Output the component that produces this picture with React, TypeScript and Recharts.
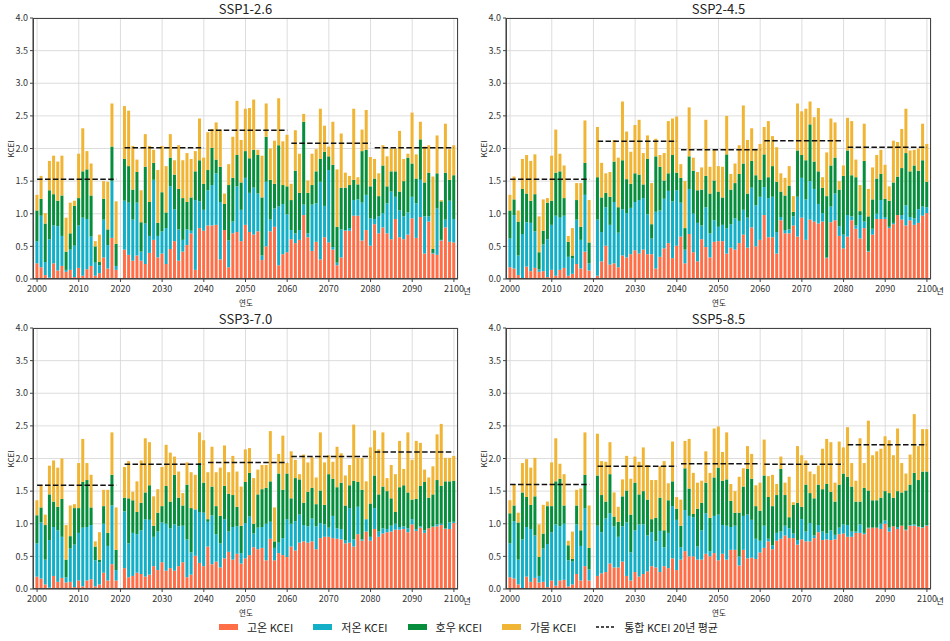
import { Bar, CartesianGrid, ComposedChart, Line, XAxis, YAxis } from "recharts";

// categories: 2000-2100, 2020 has no data
const years = Array.from({ length: 101 }, (_, i) => 2000 + i);
const periods: [number, number][] = [
  [2000, 2019],
  [2021, 2040],
  [2041, 2060],
  [2061, 2080],
  [2081, 2100]
];
const yTicks = [0, 0.5, 1, 1.5, 2, 2.5, 3, 3.5, 4];

// stack boundaries: top of hot, top of cold, top of rain, total
const ssp126Hot = [
  0.24, 0.18, 0.06, 0.02, 0.24, 0.13, 0.2, 0.11, 0.14, 0.03, 0.17, 0.05, 0.15, 0.2, 0.05, 0.09, 0.33, 0.16, 0.63, 0.14,
  null,
  0.45, 0.37, 0.28, 0.36, 0.28, 0.23, 0.4, 0.6, 0.33, 0.39, 0.23, 0.46, 0.58, 0.28, 0.42, 0.52, 0.7, 0.14, 0.78, 0.74,
  0.82, 0.82, 0.83, 0.3, 0.75, 0.18, 0.7, 0.72, 0.58, 0.83, 0.72, 0.68, 0.73, 0.29, 0.5, 0.73, 0.8, 0.21, 0.38, 0.41,
  0.61, 0.55, 0.6, 0.98, 0.64, 0.43, 0.57, 0.3, 0.64, 0.56, 0.45, 0.21, 0.33, 0.74, 0.74, 0.97, 0.97, 0.59, 0.75, 0.51,
  0.84, 0.7, 0.79, 0.7, 0.61, 0.92, 0.64, 0.61, 0.68, 0.93, 0.63, 0.95, 0.39, 0.88, 0.39, 0.37, 0.59, 0.79, 0.57, 0.56
];
const ssp126ColdTop = [
  0.58, 0.97, 0.26, 0.61, 0.82, 0.81, 0.66, 0.14, 0.45, 0.51, 0.82, 0.94, 0.92, 0.65, 0.25, 0.21, 0.91, 0.52, 1.5, 0.2,
  null,
  1.2, 1.17, 0.91, 1.17, 0.42, 0.85, 0.66, 1.52, 0.66, 0.73, 0.78, 1.42, 1.07, 0.76, 0.6, 0.76, 0.74, 1.21, 1.19, 1.06,
  1.36, 1.44, 1.62, 1.18, 0.75, 0.59, 0.88, 1.42, 1.06, 1.55, 1.32, 1.4, 1.31, 0.36, 1.49, 0.91, 1.08, 1.11, 1.15, 0.99,
  0.75, 0.7, 0.75, 1.14, 0.7, 1.14, 1.16, 1.49, 1.12, 1.67, 0.49, 0.25, 0.76, 0.75, 0.78, 1.21, 1.22, 1.17, 1.29, 0.93,
  0.92, 0.96, 1.01, 1.16, 1.34, 1.26, 1.05, 0.96, 1.02, 1.26, 1.16, 1.52, 0.96, 0.96, 0.4, 1.08, 0.6, 0.91, 1.2, 0.92
];
const ssp126RainTop = [
  1.05, 1.23, 0.85, 1.36, 1.3, 1.2, 1.28, 0.42, 0.7, 1.12, 1.24, 1.65, 1.68, 1.28, 0.5, 0.26, 1.23, 0.76, 2.03, 0.54,
  null,
  1.84, 1.73, 1.37, 1.64, 0.87, 1.72, 1.18, 1.78, 0.86, 1.33, 1.02, 1.86, 1.6, 1.38, 1.24, 1.18, 1.25, 1.65, 1.82, 1.46,
  1.67, 2.01, 1.83, 1.72, 1.15, 1.44, 1.55, 1.9, 1.48, 1.96, 1.85, 1.98, 1.9, 1.25, 2.18, 1.52, 1.46, 2.05, 1.44, 1.42,
  1.21, 1.66, 1.32, 2.41, 1.32, 1.44, 1.65, 1.84, 1.95, 1.88, 1.75, 0.8, 1.4, 1.4, 1.44, 1.52, 1.45, 1.96, 1.98, 1.42,
  1.54, 1.27, 1.74, 1.42, 1.65, 1.65, 1.34, 1.5, 1.86, 1.77, 1.54, 2.14, 1.48, 1.63, 0.46, 1.62, 1.19, 1.63, 1.52, 1.59
];
const ssp126Total = [
  1.29, 1.58, 1.01, 1.81, 1.89, 1.8, 1.89, 0.94, 1.17, 1.2, 1.92, 2.31, 1.96, 1.77, 0.58, 0.68, 1.5, 1.49, 2.69, 1.19,
  null,
  2.65, 2.58, 2.04, 1.83, 1.36, 2.22, 2.04, 1.98, 1.67, 2.04, 1.73, 2.22, 1.82, 2.05, 1.82, 1.93, 1.84, 1.96, 2.46, 1.86,
  2.25, 2.3, 2.4, 2.29, 1.31, 1.76, 2.18, 2.73, 2.13, 2.61, 2.62, 2.75, 1.98, 1.89, 2.69, 2.0, 2.12, 2.77, 2.11, 2.21,
  1.46, 2.28, 1.92, 2.53, 1.51, 1.92, 1.99, 2.61, 2.35, 2.03, 2.41, 1.68, 2.23, 1.63, 1.58, 2.61, 1.56, 2.29, 2.59, 1.87,
  1.84, 1.62, 2.05, 1.88, 2.0, 2.0, 2.27, 1.84, 1.92, 2.55, 1.91, 2.41, 2.03, 2.05, 1.57, 2.2, 1.21, 2.38, 1.99, 2.05
];
const ssp126Avg = [1.53, 2.01, 2.28, 2.08, 2.01];

const ssp245Hot = [
  0.18, 0.16, 0.06, 0.01, 0.19, 0.12, 0.17, 0.11, 0.12, 0.03, 0.14, 0.05, 0.14, 0.17, 0.05, 0.08, 0.23, 0.16, 0.42, 0.13,
  null,
  0.05, 0.27, 0.51, 0.22, 0.24, 0.18, 0.36, 0.33, 0.38, 0.44, 0.39, 0.45, 0.38, 0.38, 0.16, 0.34, 0.47, 0.55, 0.32, 0.51,
  0.65, 0.24, 0.69, 0.41, 0.27, 0.61, 0.49, 0.33, 0.57, 0.58, 0.58, 0.39, 0.48, 0.45, 0.55, 0.68, 0.48, 0.79, 0.5, 0.6,
  0.98, 0.64, 0.64, 0.39, 0.9, 0.7, 0.7, 0.82, 0.65, 0.94, 0.6, 0.91, 0.88, 0.85, 0.88, 0.32, 0.87, 0.9, 0.66, 0.47,
  0.65, 0.9, 0.77, 0.62, 0.78, 0.42, 0.68, 0.92, 0.92, 0.92, 0.78, 0.84, 0.98, 0.91, 0.82, 0.9, 0.83, 0.86, 0.97, 1.01
];
const ssp245ColdTop = [
  0.62, 0.98, 0.36, 0.69, 0.87, 0.86, 0.73, 0.15, 0.53, 0.61, 0.83, 0.97, 0.94, 0.97, 0.34, 0.32, 0.91, 0.6, 1.29, 0.24,
  null,
  0.91, 0.72, 1.1, 0.83, 1.18, 0.71, 1.07, 1.01, 1.09, 1.18, 1.21, 1.24, 0.99, 0.62, 1.03, 1.05, 1.23, 1.35, 1.19, 1.36,
  1.17, 0.45, 1.38, 1.0, 0.86, 0.82, 1.1, 0.7, 0.9, 0.8, 0.83, 0.78, 0.84, 0.93, 0.89, 1.06, 0.94, 1.4, 1.13, 1.26,
  1.41, 1.24, 1.26, 0.72, 0.95, 0.75, 0.76, 0.96, 1.26, 1.55, 1.22, 1.5, 1.38, 1.15, 1.01, 0.33, 1.11, 1.31, 0.81, 0.68,
  0.98, 0.96, 0.82, 0.98, 0.88, 0.43, 0.77, 1.0, 1.21, 0.95, 0.8, 0.86, 0.98, 0.98, 1.13, 0.95, 0.93, 1.07, 1.11, 1.1
];
const ssp245RainTop = [
  1.05, 1.22, 0.88, 1.38, 1.31, 1.2, 1.3, 0.41, 0.74, 1.17, 1.2, 1.63, 1.65, 1.24, 0.57, 0.36, 1.21, 0.8, 1.78, 0.56,
  null,
  1.56, 1.25, 1.32, 1.26, 1.8, 1.1, 1.82, 1.53, 1.46, 1.62, 1.6, 1.45, 1.84, 0.84, 1.88, 1.72, 1.51, 1.62, 1.9, 1.63,
  1.55, 0.78, 1.88, 1.66, 1.36, 1.37, 1.58, 1.31, 1.51, 1.34, 1.25, 1.91, 1.37, 1.47, 1.61, 1.77, 1.31, 1.81, 1.59, 1.52,
  1.91, 1.56, 1.73, 1.49, 1.34, 1.28, 1.43, 1.03, 1.97, 1.9, 1.82, 2.37, 1.8, 1.65, 1.4, 1.27, 1.74, 1.86, 1.37, 1.58,
  1.97, 1.59, 1.56, 1.04, 1.81, 0.96, 1.22, 1.54, 1.61, 1.23, 1.2, 1.48, 1.57, 1.7, 1.93, 1.65, 1.74, 1.66, 1.82, 1.49
];
const ssp245Total = [
  1.29, 1.57, 1.05, 1.84, 1.9, 1.81, 1.91, 0.96, 1.22, 1.24, 1.89, 2.29, 1.92, 1.74, 0.66, 0.78, 1.47, 1.47, 2.43, 1.21,
  null,
  2.33, 1.78, 1.62, 1.64, 2.13, 1.86, 2.72, 2.26, 1.95, 2.36, 2.44, 1.93, 2.2, 1.47, 2.15, 1.9, 1.93, 2.42, 2.46, 2.49,
  1.76, 1.5, 2.63, 1.86, 1.64, 1.71, 2.44, 1.72, 1.98, 1.73, 1.72, 2.5, 1.61, 1.77, 2.05, 2.66, 2.13, 2.31, 1.98, 2.07,
  2.33, 2.42, 2.19, 2.02, 1.62, 1.55, 1.73, 1.27, 2.69, 2.57, 2.61, 2.72, 2.48, 2.62, 1.56, 1.94, 2.46, 2.4, 1.5, 1.74,
  2.47, 2.42, 1.83, 1.44, 2.38, 1.38, 1.71, 1.9, 1.98, 1.75, 1.42, 2.12, 2.1, 2.3, 2.61, 1.97, 1.98, 2.0, 2.38, 2.07
];
const ssp245Avg = [1.53, 2.11, 1.98, 2.12, 2.02];

const ssp370Hot = [
  0.19, 0.16, 0.07, 0.02, 0.2, 0.11, 0.17, 0.1, 0.11, 0.03, 0.13, 0.04, 0.13, 0.15, 0.04, 0.07, 0.25, 0.13, 0.38, 0.13,
  null,
  0.32, 0.18, 0.2, 0.25, 0.23, 0.19, 0.22, 0.35, 0.29, 0.41, 0.28, 0.32, 0.28, 0.35, 0.41, 0.18, 0.22, 0.51, 0.4, 0.35,
  0.65, 0.38, 0.42, 0.33, 0.47, 0.57, 0.45, 0.54, 0.39, 0.47, 0.52, 0.64, 0.61, 0.63, 0.44, 0.77, 0.44, 0.55, 0.52, 0.49,
  0.65, 0.59, 0.71, 0.73, 0.71, 0.73, 0.61, 0.78, 0.8, 0.8, 0.78, 0.77, 0.76, 0.7, 0.71, 0.65, 0.84, 0.74, 0.88, 0.74,
  0.92, 0.8, 0.85, 0.87, 0.88, 0.91, 0.91, 0.92, 0.87, 0.99, 0.89, 0.94, 0.86, 0.93, 0.95, 0.96, 0.98, 0.92, 0.92, 1.01
];
const ssp370ColdTop = [
  0.7, 1.02, 0.45, 0.75, 0.95, 0.9, 0.8, 0.18, 0.62, 0.68, 0.86, 0.94, 0.95, 0.98, 0.44, 0.41, 1.0, 0.66, 1.28, 0.29,
  null,
  1.19, 0.7, 0.86, 0.84, 0.9, 1.07, 1.06, 0.8, 0.88, 1.02, 1.0, 0.93, 0.99, 0.96, 0.97, 0.76, 0.56, 1.22, 1.18, 1.17,
  1.03, 1.13, 0.84, 0.7, 1.07, 0.88, 0.95, 0.96, 0.55, 1.01, 1.11, 0.85, 0.94, 0.95, 1.0, 1.03, 0.63, 0.71, 0.78, 1.07,
  1.0, 1.04, 1.14, 0.98, 0.96, 1.08, 0.96, 1.01, 0.99, 0.94, 1.12, 0.93, 0.92, 0.75, 1.24, 0.76, 1.26, 0.76, 1.07, 0.8,
  1.24, 0.88, 0.93, 0.92, 0.97, 1.0, 0.95, 0.96, 0.93, 1.07, 0.92, 0.96, 0.9, 0.93, 0.96, 0.99, 1.0, 0.93, 1.02, 1.03
];
const ssp370RainTop = [
  1.13, 1.25, 0.98, 1.45, 1.34, 1.26, 1.38, 0.45, 0.81, 1.24, 1.24, 1.64, 1.67, 1.25, 0.65, 0.45, 1.27, 0.86, 1.75, 0.6,
  null,
  1.4, 1.39, 1.36, 1.18, 1.32, 1.48, 1.59, 0.97, 1.17, 1.27, 1.58, 1.34, 1.75, 1.4, 1.28, 1.6, 1.24, 1.22, 1.93, 1.63,
  1.07, 1.57, 1.27, 1.12, 1.58, 1.46, 1.44, 1.26, 0.97, 1.64, 1.78, 1.0, 1.45, 1.53, 1.55, 1.65, 0.73, 1.77, 1.52, 1.77,
  1.39, 1.7, 1.68, 1.32, 1.49, 1.55, 1.3, 1.51, 1.29, 1.76, 1.69, 1.56, 1.63, 1.28, 1.59, 1.66, 1.64, 1.52, 1.07, 1.31,
  1.74, 1.45, 1.57, 1.5, 1.39, 1.18, 1.56, 1.59, 1.48, 1.37, 1.38, 1.58, 1.64, 1.4, 1.45, 1.67, 1.58, 1.65, 1.65, 1.66
];
const ssp370Total = [
  1.36, 1.59, 1.14, 1.89, 1.97, 1.86, 2.0, 0.98, 1.28, 1.3, 1.93, 2.3, 1.93, 1.75, 0.73, 0.87, 1.52, 1.52, 2.4, 1.25,
  null,
  1.87, 1.96, 1.49, 1.65, 1.97, 2.31, 2.25, 1.42, 1.53, 1.87, 2.21, 2.09, 2.03, 1.8, 1.47, 1.94, 1.79, 1.75, 2.4, 2.28,
  1.79, 2.18, 1.79, 1.86, 2.2, 1.79, 2.04, 1.8, 1.57, 2.14, 2.16, 1.7, 1.83, 1.9, 1.9, 2.42, 1.25, 2.07, 2.35, 1.93,
  2.11, 1.98, 1.76, 2.06, 1.94, 2.02, 1.71, 2.4, 1.94, 2.05, 1.95, 2.18, 2.08, 1.74, 1.9, 2.52, 2.01, 2.01, 1.65, 2.17,
  2.43, 2.14, 2.4, 1.7, 1.9, 1.76, 2.27, 1.84, 2.4, 1.98, 2.27, 2.24, 1.83, 1.71, 1.88, 2.37, 2.53, 2.01, 2.01, 2.04
];
const ssp370Avg = [1.59, 1.91, 1.94, 2.03, 2.1];

const ssp585Hot = [
  0.18, 0.16, 0.07, 0.01, 0.19, 0.11, 0.17, 0.1, 0.11, 0.03, 0.13, 0.05, 0.13, 0.14, 0.04, 0.07, 0.23, 0.13, 0.35, 0.13,
  null,
  0.2, 0.24, 0.26, 0.39, 0.33, 0.33, 0.42, 0.2, 0.13, 0.26, 0.19, 0.23, 0.27, 0.35, 0.33, 0.26, 0.35, 0.32, 0.47, 0.29,
  0.45, 0.58, 0.5, 0.5, 0.45, 0.45, 0.54, 0.5, 0.55, 0.44, 0.54, 0.45, 0.6, 0.6, 0.36, 0.6, 0.47, 0.48, 0.46, 0.56,
  0.63, 0.73, 0.61, 0.74, 0.77, 0.82, 0.78, 0.78, 0.68, 0.76, 0.73, 0.73, 0.78, 0.87, 0.75, 0.76, 0.75, 0.76, 0.84, 0.85,
  0.8, 0.8, 0.86, 0.86, 0.84, 0.93, 0.94, 0.94, 0.92, 1.0, 0.88, 0.96, 0.92, 0.97, 0.9, 0.97, 0.97, 0.95, 0.94, 0.97
];
const ssp585ColdTop = [
  0.7, 1.04, 0.45, 0.76, 0.95, 0.92, 0.82, 0.2, 0.62, 0.69, 0.87, 0.99, 0.96, 1.0, 0.44, 0.42, 0.99, 0.66, 1.24, 0.3,
  null,
  0.97, 0.87, 1.08, 1.16, 0.96, 0.8, 0.96, 1.02, 0.56, 0.9, 0.99, 0.99, 0.82, 0.87, 0.73, 0.89, 0.64, 0.86, 1.27, 1.06,
  0.64, 1.21, 1.12, 1.1, 0.65, 0.9, 1.16, 0.58, 1.12, 1.14, 0.98, 0.97, 0.95, 0.97, 0.5, 1.12, 1.14, 1.06, 0.77, 0.74,
  0.97, 0.77, 0.67, 0.86, 0.88, 0.97, 0.93, 0.85, 0.75, 1.07, 0.88, 1.01, 0.82, 0.98, 0.88, 0.85, 0.9, 0.83, 0.94, 0.99,
  0.98, 0.88, 0.88, 0.99, 0.86, 0.94, 0.94, 0.94, 1.0, 1.05, 0.94, 0.96, 0.95, 0.97, 0.91, 0.98, 0.99, 0.96, 0.95, 0.98
];
const ssp585RainTop = [
  1.16, 1.28, 1.02, 1.48, 1.41, 1.29, 1.42, 0.49, 0.85, 1.27, 1.27, 1.65, 1.69, 1.28, 0.67, 0.46, 1.28, 0.9, 1.75, 0.63,
  null,
  1.74, 1.44, 1.34, 1.76, 1.11, 1.03, 1.42, 1.51, 1.14, 1.63, 1.45, 1.5, 1.37, 1.07, 1.09, 1.4, 0.9, 1.36, 1.65, 1.23,
  0.97, 1.85, 1.54, 1.15, 1.23, 1.32, 1.63, 1.09, 1.71, 1.86, 1.66, 1.68, 1.35, 1.17, 1.17, 1.57, 1.84, 1.69, 1.27, 1.2,
  1.74, 1.41, 1.27, 1.44, 1.84, 1.44, 1.1, 1.29, 1.32, 1.26, 1.6, 1.47, 1.39, 1.6, 1.53, 1.61, 1.49, 1.34, 1.6, 1.77,
  1.72, 1.57, 1.34, 1.34, 1.55, 1.51, 1.36, 1.36, 1.4, 1.5, 1.47, 1.4, 1.5, 1.48, 1.51, 1.6, 1.78, 1.67, 1.8, 1.8
];
const ssp585Total = [
  1.36, 1.61, 1.17, 1.93, 1.99, 1.86, 2.01, 0.99, 1.29, 1.34, 1.94, 2.31, 1.92, 1.76, 0.74, 0.88, 1.52, 1.54, 2.4, 1.28,
  null,
  2.38, 1.96, 1.95, 2.25, 1.48, 1.26, 1.68, 2.04, 1.69, 2.03, 1.95, 2.17, 1.9, 1.67, 1.67, 1.88, 1.96, 1.62, 2.26, 1.41,
  1.37, 2.27, 2.3, 1.78, 1.63, 1.66, 2.11, 1.78, 2.46, 2.49, 2.1, 2.4, 1.61, 1.5, 1.72, 1.85, 2.19, 2.07, 1.59, 1.63,
  2.29, 1.73, 1.75, 1.61, 2.03, 1.63, 1.72, 1.33, 2.19, 2.05, 1.97, 1.8, 1.76, 1.89, 2.15, 2.3, 2.25, 1.63, 2.26, 2.17,
  2.48, 1.93, 1.66, 2.31, 1.93, 2.58, 2.05, 2.11, 2.15, 2.34, 2.28, 2.05, 2.46, 1.93, 1.77, 2.06, 2.68, 2.19, 2.45, 2.45
];
const ssp585Avg = [1.6, 1.88, 1.92, 1.91, 2.21];

const COLORS = {
  hot: "#FF6E47",
  cold: "#12AFC7",
  rain: "#078E3D",
  drought: "#F1B535"
};
const FONT = "'Noto Sans CJK KR', 'Noto Sans', sans-serif";

interface Scenario {
  title: string;
  hot: (number | null)[];
  coldTop: (number | null)[];
  rainTop: (number | null)[];
  total: (number | null)[];
  avg: number[];
}

const scenarios: Scenario[] = [
  { title: "SSP1-2.6", hot: ssp126Hot, coldTop: ssp126ColdTop, rainTop: ssp126RainTop, total: ssp126Total, avg: ssp126Avg },
  { title: "SSP2-4.5", hot: ssp245Hot, coldTop: ssp245ColdTop, rainTop: ssp245RainTop, total: ssp245Total, avg: ssp245Avg },
  { title: "SSP3-7.0", hot: ssp370Hot, coldTop: ssp370ColdTop, rainTop: ssp370RainTop, total: ssp370Total, avg: ssp370Avg },
  { title: "SSP5-8.5", hot: ssp585Hot, coldTop: ssp585ColdTop, rainTop: ssp585RainTop, total: ssp585Total, avg: ssp585Avg }
];

const seg = (top: number, bottom: number) => Math.max(0, Math.round((top - bottom) * 100) / 100);

function buildRows(s: Scenario) {
  return years.map((year, i) => {
    const hot = s.hot[i];
    const coldTop = s.coldTop[i];
    const rainTop = s.rainTop[i];
    const total = s.total[i];
    if (hot == null || coldTop == null || rainTop == null || total == null) {
      return { year, hot: null, cold: null, rain: null, drought: null, avgA: null, avgB: null };
    }
    const p = periods.findIndex(([a, b]) => year >= a && year <= b);
    return {
      year,
      hot,
      cold: seg(coldTop, hot),
      rain: seg(rainTop, coldTop),
      drought: seg(total, rainTop),
      avgA: p % 2 === 0 ? s.avg[p] : null,
      avgB: p % 2 === 1 ? s.avg[p] : null
    };
  });
}

const tickStyle = { fontSize: 9, fill: "#333", fontFamily: FONT };

function Panel({ scenario, left, top }: { scenario: Scenario; left: number; top: number }) {
  const rows = buildRows(scenario);
  return (
    <div style={{ position: "absolute", left, top, width: 470, height: 310, fontFamily: FONT, color: "#222" }}>
      <div style={{ position: "absolute", left: 33, top: 0, width: 425, lineHeight: "18px", textAlign: "center", fontSize: 13 }}>
        {scenario.title}
      </div>
      <ComposedChart
        width={470}
        height={300}
        data={rows}
        margin={{ top: 18, right: 12, left: 0, bottom: 0 }}
        barCategoryGap="10%"
      >
        <CartesianGrid stroke="#d4d4d4" strokeWidth={0.8} />
        <XAxis
          dataKey="year"
          interval={9}
          padding={{ left: 2, right: 2 }}
          height={21}
          tick={tickStyle}
          tickSize={3}
          tickMargin={4}
          axisLine={{ stroke: "#444" }}
          tickLine={{ stroke: "#444" }}
        />
        <YAxis
          domain={[0, 4]}
          ticks={yTicks}
          width={33}
          tick={tickStyle}
          tickSize={3}
          tickMargin={2}
          tickFormatter={(v: number) => v.toFixed(1)}
          axisLine={{ stroke: "#444" }}
          tickLine={{ stroke: "#444" }}
        />
        <Bar dataKey="hot" stackId="k" fill={COLORS.hot} isAnimationActive={false} />
        <Bar dataKey="cold" stackId="k" fill={COLORS.cold} isAnimationActive={false} />
        <Bar dataKey="rain" stackId="k" fill={COLORS.rain} isAnimationActive={false} />
        <Bar dataKey="drought" stackId="k" fill={COLORS.drought} isAnimationActive={false} />
        <Line dataKey="avgA" stroke="#111" strokeWidth={1.5} strokeDasharray="5.5 2.4" dot={false} activeDot={false} isAnimationActive={false} />
        <Line dataKey="avgB" stroke="#111" strokeWidth={1.5} strokeDasharray="5.5 2.4" dot={false} activeDot={false} isAnimationActive={false} />
      </ComposedChart>
      <div
        style={{
          position: "absolute",
          left: 33,
          top: 18,
          width: 425,
          height: 261,
          border: "1px solid #444",
          boxSizing: "border-box",
          pointerEvents: "none"
        }}
      />
      <div style={{ position: "absolute", left: 10, top: 149, transform: "translate(-50%, -50%) rotate(-90deg)", fontSize: 8 }}>
        KCEI
      </div>
      <div style={{ position: "absolute", left: 246, top: 302, transform: "translate(-50%, -50%)", fontSize: 7.5 }}>연도</div>
      <div style={{ position: "absolute", left: 467, top: 290, transform: "translate(-50%, -50%)", fontSize: 8.5 }}>년</div>
    </div>
  );
}

const legendItems = [
  { label: "고온 KCEI", color: COLORS.hot },
  { label: "저온 KCEI", color: COLORS.cold },
  { label: "호우 KCEI", color: COLORS.rain },
  { label: "가뭄 KCEI", color: COLORS.drought }
];

export default function App() {
  return (
    <div style={{ position: "absolute", left: 0, top: 0, width: 950, height: 641, background: "#fff", overflow: "hidden" }}>
      <Panel scenario={scenarios[0]} left={0} top={0} />
      <Panel scenario={scenarios[1]} left={473} top={0} />
      <Panel scenario={scenarios[2]} left={0} top={310} />
      <Panel scenario={scenarios[3]} left={473} top={310} />
      <div
        style={{
          position: "absolute",
          left: 219,
          top: 619,
          height: 16,
          display: "flex",
          alignItems: "center",
          gap: 20,
          fontFamily: FONT,
          fontSize: 11,
          color: "#222"
        }}
      >
        {legendItems.map((item) => (
          <div key={item.label} style={{ display: "flex", alignItems: "center" }}>
            <span style={{ display: "inline-block", width: 19, height: 6, background: item.color, marginRight: 9 }} />
            <span>{item.label}</span>
          </div>
        ))}
        <div style={{ display: "flex", alignItems: "center" }}>
          <svg width={19} height={6} style={{ marginRight: 9 }}>
            <line x1={0} y1={3} x2={19} y2={3} stroke="#111" strokeWidth={1.5} strokeDasharray="3 2" />
          </svg>
          <span>통합 KCEI 20년 평균</span>
        </div>
      </div>
    </div>
  );
}
